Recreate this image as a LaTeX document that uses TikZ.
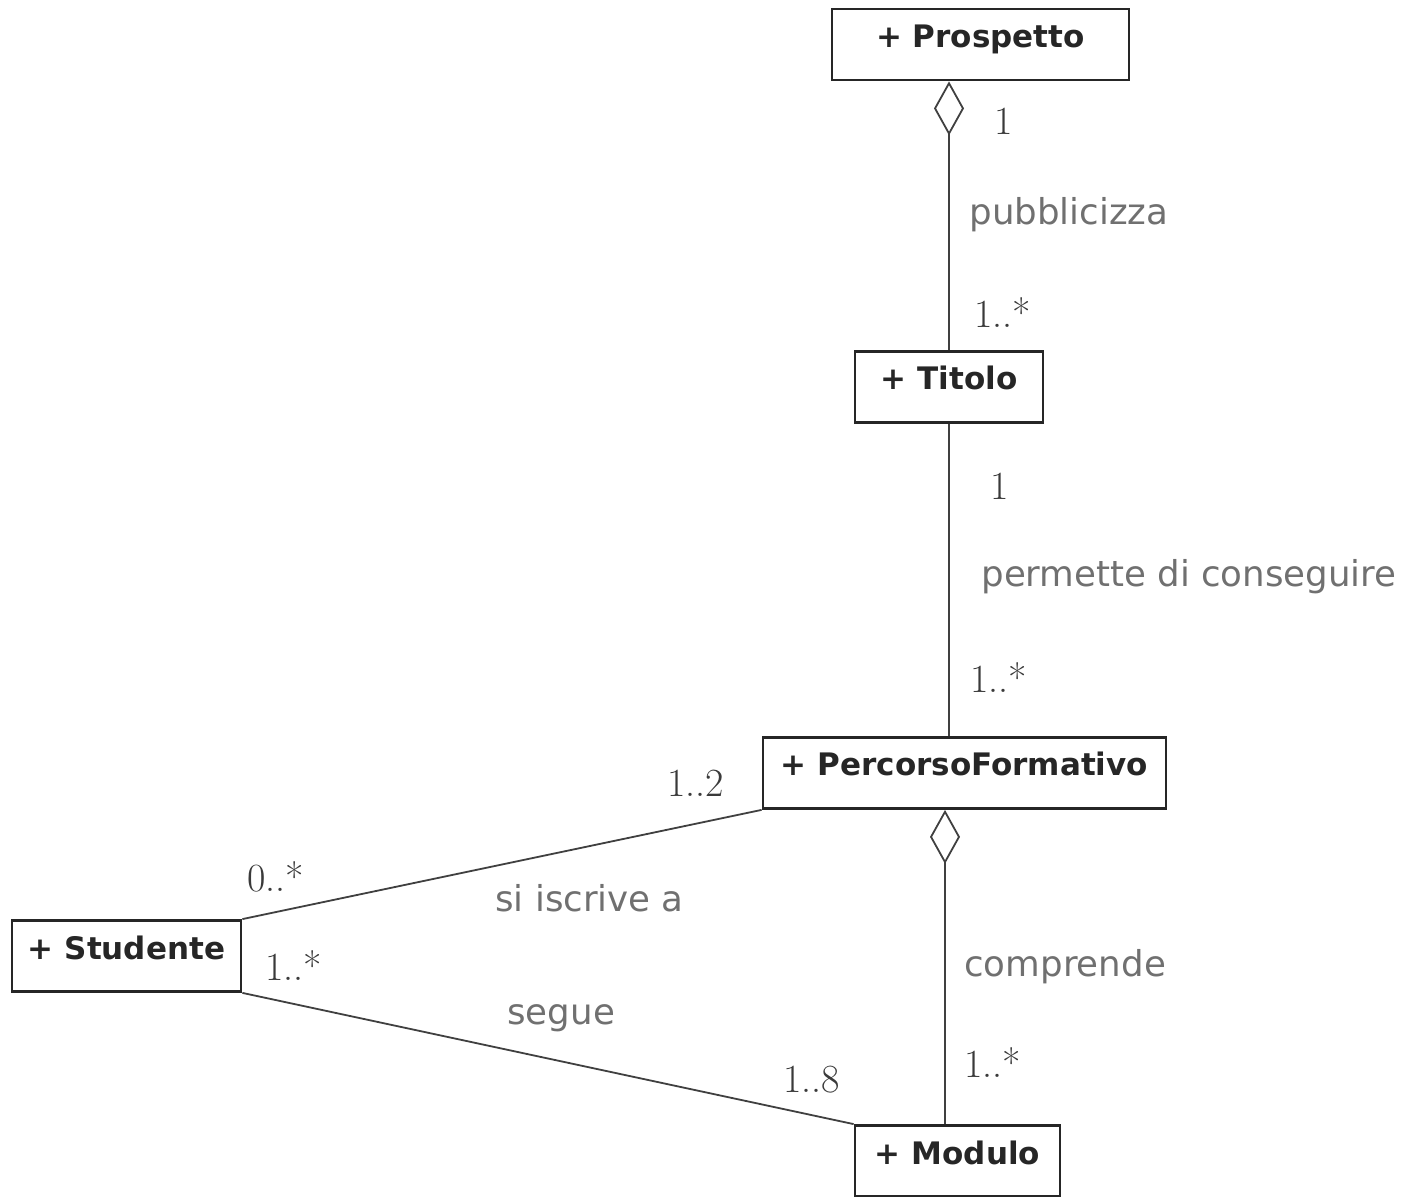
\documentclass[tikz,border=0pt]{standalone}
\usepackage{fontspec}
\usetikzlibrary{arrows.meta}
\newfontfamily\classfont{DejaVu Sans}
\newfontfamily\assocfont{DejaVu Sans}
\definecolor{linegray}{HTML}{404040}
\definecolor{labelgray}{HTML}{707070}
\definecolor{multgray}{HTML}{3A3A3A}
\tikzset{
  classbox/.style={draw=black!85, line width=1.4pt, rectangle, inner sep=0pt,
    minimum height=35.5pt, text height=11pt, text depth=8pt,
    font=\classfont\bfseries\fontsize{15.5}{18}\selectfont, text=black!85},
  assoc/.style={draw=linegray, line width=0.9pt},
  aggr/.style={assoc, {Diamond[open, length=27pt, width=15pt, line width=0.9pt]}-},
  assoclabel/.style={inner sep=0pt, anchor=west, text=labelgray,
    font=\assocfont\fontsize{17.8}{20}\selectfont},
  mult/.style={inner sep=0pt, anchor=west, text=multgray,
    font=\fontsize{20}{22}\selectfont}
}
\begin{document}
\begin{tikzpicture}[x=0.5pt, y=-0.5pt]
  \useasboundingbox (0,0) rectangle (1404,1197);

  % classes
  \node[classbox, minimum width=148.5pt] (prospetto) at (980.5,44.5) {+ Prospetto};
  \node[classbox, minimum width=94pt]    (titolo)    at (949,387)    {+ Titolo};
  \node[classbox, minimum width=201.5pt] (percorso)  at (964.5,773)  {+ PercorsoFormativo};
  \node[classbox, minimum width=114.5pt] (studente)  at (126.5,956)  {+ Studente};
  \node[classbox, minimum width=102.5pt] (modulo)    at (957.5,1161) {+ Modulo};

  % associations
  \draw[aggr] (titolo.north |- prospetto.south) -- (titolo.north);
  \draw[assoc] (titolo.south) -- (titolo.south |- percorso.north);
  \draw[aggr] ([xshift=-9.75pt]percorso.south) -- ([xshift=-9.75pt]percorso.south |- modulo.north);
  \draw[assoc] (studente.north east) -- (percorso.south west);
  \draw[assoc] (studente.south east) -- (modulo.north west);

  % association names
  \node[assoclabel] (lpub)  at (969,215)  {pubblicizza};
  \node[assoclabel] (lperm) at (981,577)  {permette di conseguire};
  \node[assoclabel] (lisc)  at (495,898)  {si iscrive a};
  \node[assoclabel] (lseg)  at (507,1018) {segue};
  \node[assoclabel] (lcomp) at (964,967)  {comprende};

  % multiplicities
  \node[mult] (m1) at (994,121)  {1};
  \node[mult] (m2) at (974,313)  {1..*};
  \node[mult] (m3) at (990,486)  {1};
  \node[mult] (m4) at (970,678)  {1..*};
  \node[mult] (m5) at (667,783)  {1..2};
  \node[mult] (m6) at (247,877)  {0..*};
  \node[mult] (m7) at (265,966)  {1..*};
  \node[mult] (m8) at (783,1080) {1..8};
  \node[mult] (m9) at (964,1063) {1..*};
\end{tikzpicture}
\end{document}
